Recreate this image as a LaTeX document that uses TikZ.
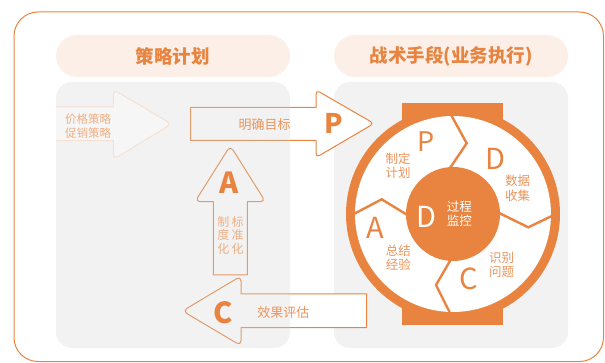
\documentclass[tikz,border=0pt]{standalone}
\usepackage{fontspec}
\setmainfont{Noto Sans CJK SC}
\definecolor{ora}{HTML}{E8843F}
\definecolor{oralt}{HTML}{EB955C}
\definecolor{orafade}{HTML}{EFAF86}
\definecolor{pill}{HTML}{FBEFE8}
\definecolor{panel}{HTML}{F2F2F2}
\definecolor{veil}{HTML}{D4D4D4}
\definecolor{fadeline}{HTML}{F6E0D2}
\tikzset{
  arr/.style={draw=ora, line width=1pt, fill=white, line join=round},
  sep/.style={draw=ora, line width=2.4pt, line join=miter},
  big/.style={font=\fontsize{29}{30}\selectfont, inner sep=0pt},
  bigb/.style={font=\fontsize{29}{30}\selectfont\bfseries, inner sep=0pt, text=ora},
  small/.style={font=\fontsize{12.5}{14.3}\selectfont, align=center, inner sep=0pt},
  head/.style={font=\fontsize{18.5}{20}\selectfont\bfseries, text=ora, inner sep=0pt}
}
\begin{document}
\begin{tikzpicture}[x=1pt,y=-1pt]
\useasboundingbox (0,0) rectangle (605,363);
% outer frame
\draw[ora, line width=1pt, rounded corners=24pt] (14,12) rectangle (603.5,361.5);
% header pills
\fill[pill, rounded corners=21pt] (56,35) rectangle (290,77);
\fill[pill, rounded corners=21pt] (334,35) rectangle (568,77);
\node[head] (h1) at (172.5,56) {策略计划};
\node[head] (h2) at (451,56) {战术手段(业务执行)};
% right panel
\fill[panel, rounded corners=16pt] (334,82) rectangle (568,348);
% wheel
\fill[ora] (402,103) rectangle (503,325);
\fill[ora] (453,214) circle[radius=107pt];
\fill[white] (453,214) circle[radius=98pt];
\draw[sep] (449.5,112) -- (466.7,143.3) -- (450,168);
\draw[sep] (497,212) -- (528.3,227.3) -- (555,214.5);
\draw[sep] (451.7,258) -- (436,285) -- (451.5,316);
\draw[sep] (351,215.5) -- (381.7,199.3) -- (409,216);
\fill[ora] (453,214) circle[radius=47pt];
% arrows
\draw[arr] (190.7,107.5) -- (316,107.5) [rounded corners=4pt] -- (316,90) -- (374,123.5) -- (316,157.5) [sharp corners] -- (316,140.5) -- (190.7,140.5) -- cycle;
\draw[arr] (213.3,275) -- (213.3,201.7) [rounded corners=5pt] -- (195,201.7) -- (230.3,145.7) -- (265.5,201.7) [sharp corners] -- (247.3,201.7) -- (247.3,275) -- cycle;
\draw[arr] (366.5,294) -- (241,294) [rounded corners=5pt] -- (241,276) -- (182.5,311) -- (241,345.7) [sharp corners] -- (241,327.7) -- (366.5,327.7) -- cycle;
% left panel veil
\fill[veil, fill opacity=0.3, rounded corners=16pt] (56,82) rectangle (290,348);
% faded arrow
\draw[fadeline, line width=1pt, fill=white, fill opacity=0.3] (56,107) -- (113.3,107) [rounded corners=5pt] -- (113.3,89.5) -- (171.5,124) -- (113.3,159.5) [sharp corners] -- (113.3,140.7) -- (56,140.7);
\node[small, text=orafade, font=\fontsize{11.5}{14}\selectfont] (t0) at (88,126) {价格策略\\促销策略};
% arrow texts
\node[small, text=oralt, font=\fontsize{13}{14}\selectfont] (tp) at (264.5,124.3) {明确目标};
\node[bigb, font=\fontsize{27}{28}\selectfont\bfseries] (lp) at (333.3,123.3) {P};
\node[bigb] (la) at (229.5,182.7) {A};
\node[small, text=orafade, font=\fontsize{12}{13.3}\selectfont] (ta1) at (223.3,235.3) {制\\度\\化};
\node[small, text=orafade, font=\fontsize{12}{13.3}\selectfont] (ta2) at (237.5,235.3) {标\\准\\化};
\node[bigb] (lc) at (222.7,312.5) {C};
\node[small, text=oralt, font=\fontsize{13}{14}\selectfont] (tc) at (283.3,312.5) {效果评估};
% wheel texts
\node[big, text=ora, font=\fontsize{27}{28}\selectfont] (wp) at (425.7,141.7) {P};
\node[small, text=oralt] (w1) at (398,165.5) {制定\\计划};
\node[big, text=ora] (wd) at (495.7,159.3) {D};
\node[small, text=oralt] (w2) at (517.7,188.3) {数据\\收集};
\node[big, text=white] (wd2) at (426.7,216.7) {D};
\node[small, text=white] (w3) at (459.3,214) {过程\\监控};
\node[big, text=ora] (wa) at (375,228.3) {A};
\node[small, text=oralt] (w4) at (398.3,258) {总结\\经验};
\node[small, text=oralt] (w5) at (501.7,264.7) {识别\\问题};
\node[big, text=ora] (wc) at (468.3,279.3) {C};
\end{tikzpicture}
\end{document}
